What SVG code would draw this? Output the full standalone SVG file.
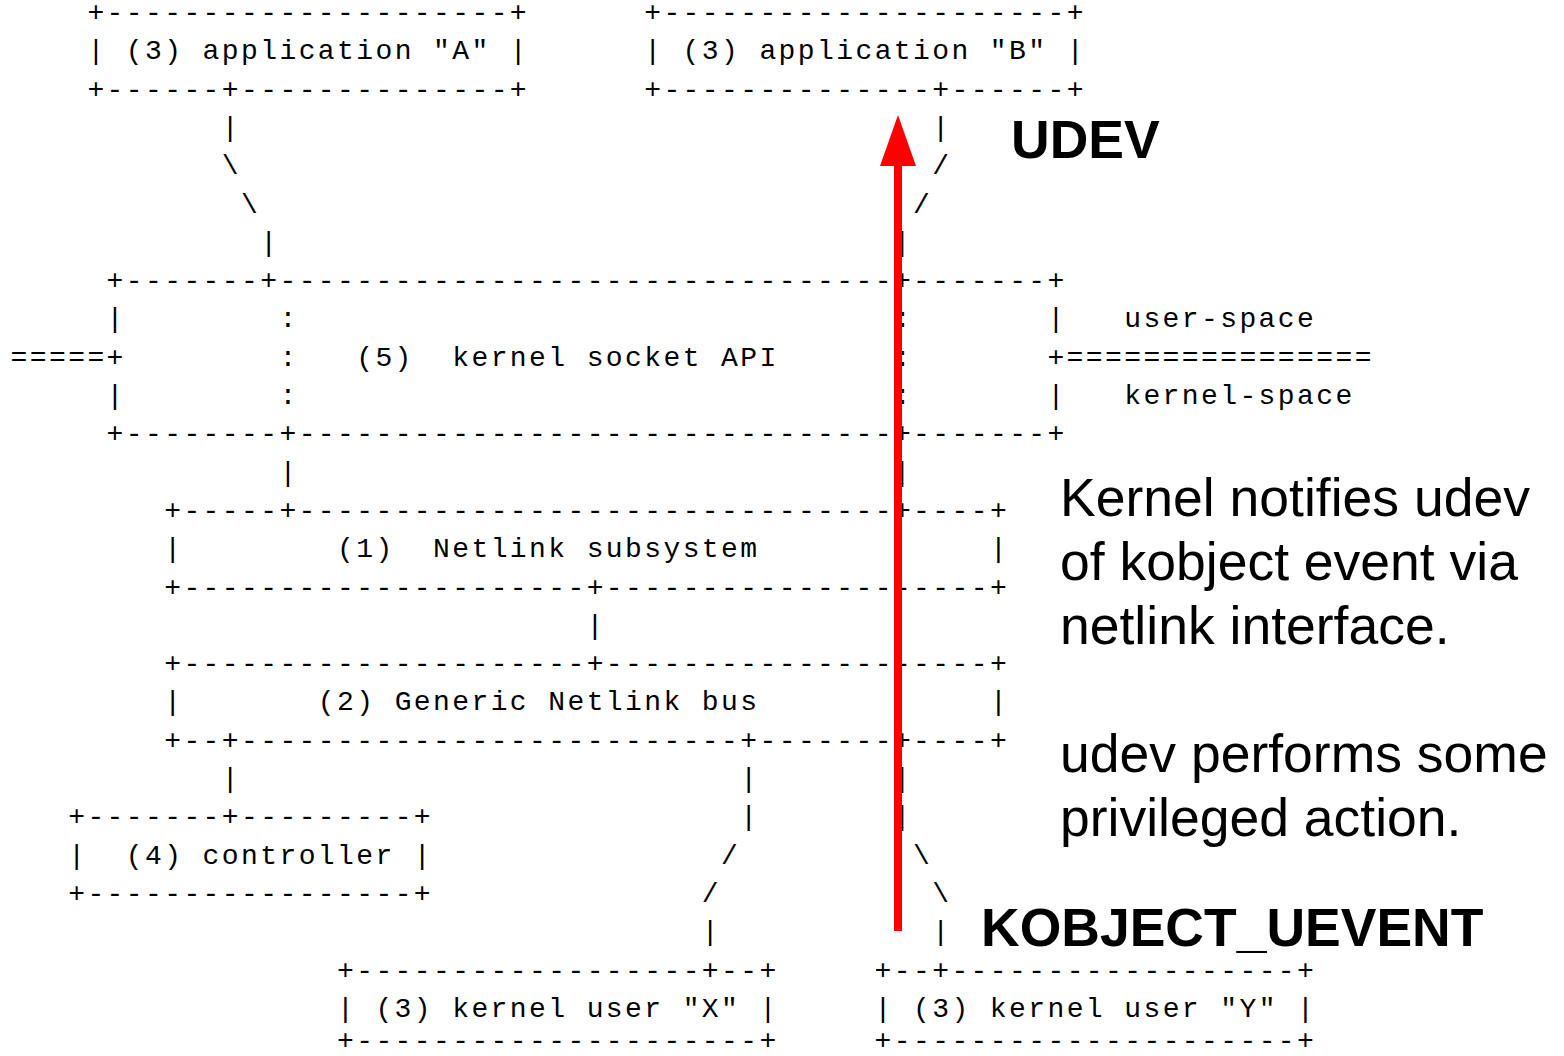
<svg xmlns="http://www.w3.org/2000/svg" width="1564" height="1056" viewBox="0 0 1564 1056" xml:space="preserve">
<style>
  .a { font-family: "Liberation Mono", "DejaVu Sans Mono", monospace; font-size: 28px; letter-spacing: 2.4px; fill: #000; white-space: pre; }
  .n { font-family: "Liberation Sans", Arial, sans-serif; font-size: 53.5px; fill: #000; }
  .b { font-family: "Liberation Sans", Arial, sans-serif; font-size: 53.5px; font-weight: bold; fill: #000; }
</style>
<rect width="1564" height="1056" fill="#ffffff"/>

<g transform="translate(-0.9,1)">
<g id="app-a">
  <text class="a" x="88.3" y="20">+---------------------+</text>
  <text class="a" x="88.3" y="58.3">| (3) application "A" |</text>
  <text class="a" x="88.3" y="96.6">+------+--------------+</text>
</g>
<g id="app-b">
  <text class="a" x="645.1" y="20">+---------------------+</text>
  <text class="a" x="645.1" y="58.3">| (3) application "B" |</text>
  <text class="a" x="645.1" y="96.6">+--------------+------+</text>
</g>
<g id="socket-api">
  <text class="a" x="107.5" y="288.1">+-------+--------------------------------+-------+</text>
  <text class="a" x="107.5" y="326.4">|        :                               :       |</text>
  <text class="a" x="280.3" y="364.7">:   (5)  kernel socket API      :</text>
  <text class="a" x="107.5" y="403">|        :                               :       |</text>
  <text class="a" x="107.5" y="441.3">+--------+-------------------------------+-------+</text>
</g>
<g id="space-boundary">
  <text class="a" x="11.5" y="364.7">=====+</text>
  <text class="a" x="1048.3" y="364.7">+================</text>
  <text class="a" x="1125.1" y="326.4">user-space</text>
  <text class="a" x="1125.1" y="403">kernel-space</text>
</g>
<g id="netlink-subsystem">
  <text class="a" x="165.1" y="517.9">+-----+-------------------------------+----+</text>
  <text class="a" x="165.1" y="556.2">|        (1)  Netlink subsystem            |</text>
  <text class="a" x="165.1" y="594.5">+---------------------+--------------------+</text>
</g>
<g id="generic-netlink-bus">
  <text class="a" x="165.1" y="671.1">+---------------------+--------------------+</text>
  <text class="a" x="165.1" y="709.4">|       (2) Generic Netlink bus            |</text>
  <text class="a" x="165.1" y="747.7">+--+--------------------------+-------+----+</text>
</g>
<g id="controller">
  <text class="a" x="69.1" y="824.3">+-------+---------+</text>
  <text class="a" x="69.1" y="862.6">|  (4) controller |</text>
  <text class="a" x="69.1" y="900.9">+-----------------+</text>
</g>
<g id="kernel-user-x">
  <text class="a" x="337.9" y="977.5">+------------------+--+</text>
  <text class="a" x="337.9" y="1015.8">| (3) kernel user "X" |</text>
  <text class="a" x="337.9" y="1047.5">+---------------------+</text>
</g>
<g id="kernel-user-y">
  <text class="a" x="875.5" y="977.5">+--+------------------+</text>
  <text class="a" x="875.5" y="1015.8">| (3) kernel user "Y" |</text>
  <text class="a" x="875.5" y="1047.5">+---------------------+</text>
</g>

<g id="connectors">
  <text class="a" x="222.7" y="134.9">|</text>
  <text class="a" x="933.1" y="134.9">|</text>
  <text class="a" x="222.7" y="173.2">\</text>
  <text class="a" x="933.1" y="173.2">/</text>
  <text class="a" x="241.9" y="211.5">\</text>
  <text class="a" x="913.9" y="211.5">/</text>
  <text class="a" x="261.1" y="249.8">|</text>
  <text class="a" x="894.7" y="249.8">|</text>
  <text class="a" x="280.3" y="479.6">|</text>
  <text class="a" x="894.7" y="479.6">|</text>
  <text class="a" x="587.5" y="632.8">|</text>
  <text class="a" x="222.7" y="786">|</text>
  <text class="a" x="741.1" y="786">|</text>
  <text class="a" x="894.7" y="786">|</text>
  <text class="a" x="741.1" y="824.3">|</text>
  <text class="a" x="894.7" y="824.3">|</text>
  <text class="a" x="721.9" y="862.6">/</text>
  <text class="a" x="913.9" y="862.6">\</text>
  <text class="a" x="702.7" y="900.9">/</text>
  <text class="a" x="933.1" y="900.9">\</text>
  <text class="a" x="702.7" y="939.2">|</text>
  <text class="a" x="933.1" y="939.2">|</text>
</g>
</g>

<g id="event-arrow">
  <line x1="898" y1="931" x2="898" y2="162" stroke="#ff0000" stroke-width="8"/>
  <polygon points="898,115 880,166 916,166" fill="#ff0000"/>
</g>

<g id="labels">
  <text class="b" x="1011" y="158">UDEV</text>
  <text class="b" x="981" y="946">KOBJECT_UEVENT</text>
  <text class="n" x="1060" y="516">Kernel notifies udev</text>
  <text class="n" x="1060" y="580">of kobject event via</text>
  <text class="n" x="1060" y="644">netlink interface.</text>
  <text class="n" x="1060" y="772">udev performs some</text>
  <text class="n" x="1060" y="836">privileged action.</text>
</g>
</svg>
